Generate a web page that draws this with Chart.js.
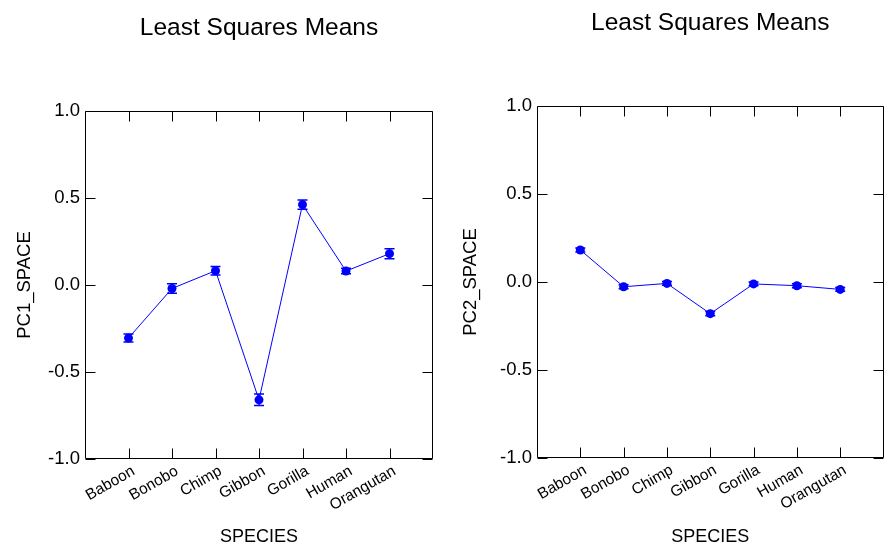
<!DOCTYPE html>
<html>
<head>
<meta charset="utf-8">
<script src="https://cdn.jsdelivr.net/npm/chart.js@4.4.1/dist/chart.umd.min.js"></script>
<style>
    html, body { margin: 0; padding: 0; background: #fff; }
    #wrap { position: relative; width: 888px; height: 548px; overflow: hidden; }
    .panel { position: absolute; top: 0; width: 444px; height: 548px; }
</style>
</head>
<body>
<div id="wrap">
    <div class="panel" style="left:0"><canvas id="pc1-chart"></canvas></div>
    <div class="panel" style="left:444px"><canvas id="pc2-chart"></canvas></div>
</div>
<script>
// Data
const species = ['Baboon', 'Bonobo', 'Chimp', 'Gibbon', 'Gorilla', 'Human', 'Orangutan'];
const pc1Means = [-0.305, -0.02, 0.082, -0.66, 0.462, 0.08, 0.18];
const pc1Errors = [0.023, 0.027, 0.024, 0.033, 0.026, 0.016, 0.029];
const pc2Means = [0.182, -0.027, -0.008, -0.18, -0.011, -0.021, -0.042];
const pc2Errors = [0.011, 0.011, 0.011, 0.012, 0.011, 0.011, 0.011];
const yTicks = [-1.0, -0.5, 0.0, 0.5, 1.0];

const blue = '#0000ff';
const fontFamily = '"Liberation Sans", Arial, sans-serif';

// Vertical error bars with caps, drawn under the points
const errorBars = {
    id: 'errorBars',
    beforeDatasetsDraw(chart, args, opts) {
        const ctx = chart.ctx;
        const xs = chart.scales.x;
        const ys = chart.scales.y;
        ctx.save();
        ctx.strokeStyle = blue;
        ctx.lineWidth = 1.5;
        opts.means.forEach((m, i) => {
            const x = xs.getPixelForValue(i + 1);
            const yTop = ys.getPixelForValue(m + opts.errors[i]);
            const yBot = ys.getPixelForValue(m - opts.errors[i]);
            ctx.beginPath();
            ctx.moveTo(x, yTop);
            ctx.lineTo(x, yBot);
            ctx.moveTo(x - 5, yTop);
            ctx.lineTo(x + 5, yTop);
            ctx.moveTo(x - 5, yBot);
            ctx.lineTo(x + 5, yBot);
            ctx.stroke();
        });
        ctx.restore();
    }
};

// Box round the plot with inward ticks on all four sides
const frame = {
    id: 'frame',
    afterDraw(chart) {
        const ctx = chart.ctx;
        const a = chart.chartArea;
        const L = Math.round(a.left) + 0.5, R = Math.round(a.right) - 0.5;
        const T = Math.round(a.top) + 0.5, B = Math.round(a.bottom) - 0.5;
        const len = 10;
        ctx.save();
        ctx.strokeStyle = '#000';
        ctx.lineWidth = 1;
        ctx.beginPath();
        ctx.rect(L, T, R - L, B - T);
        chart.scales.x.ticks.forEach(t => {
            const x = Math.round(chart.scales.x.getPixelForValue(t.value)) + 0.5;
            ctx.moveTo(x, B); ctx.lineTo(x, B - len);
            ctx.moveTo(x, T); ctx.lineTo(x, T + len);
        });
        chart.scales.y.ticks.forEach(t => {
            const y = Math.round(chart.scales.y.getPixelForValue(t.value)) + 0.5;
            ctx.moveTo(L, y); ctx.lineTo(L + len, y);
            ctx.moveTo(R, y); ctx.lineTo(R - len, y);
        });
        ctx.stroke();
        ctx.restore();
    }
};

function createMeansChart(canvasId, means, errors, yTitle, box) {
    const ctx = document.getElementById(canvasId).getContext('2d');
    return new Chart(ctx, {
        type: 'line',
        data: {
            datasets: [{
                data: species.map((s, i) => ({ x: i + 1, y: means[i] })),
                borderColor: blue,
                borderWidth: 1,
                backgroundColor: blue,
                pointBackgroundColor: blue,
                pointBorderWidth: 0,
                pointRadius: 4.5,
                tension: 0
            }]
        },
        options: {
            responsive: true,
            maintainAspectRatio: false,
            animation: false,
            layout: { padding: { left: 0, right: box.padRight, top: 0, bottom: 0 } },
            scales: {
                x: {
                    type: 'linear',
                    min: 0,
                    max: 8,
                    afterBuildTicks: axis => { axis.ticks = species.map((s, i) => ({ value: i + 1 })); },
                    afterFit: axis => { axis.height = box.xHeight; },
                    grid: { display: false, drawTicks: false },
                    border: { display: false },
                    ticks: {
                        autoSkip: false,
                        minRotation: 30,
                        maxRotation: 30,
                        padding: 3,
                        labelOffset: 5,
                        color: '#000',
                        font: { family: fontFamily, size: 15.5 },
                        callback: v => species[v - 1]
                    },
                    title: {
                        display: true,
                        text: 'SPECIES',
                        color: '#000',
                        font: { family: fontFamily, size: 18 },
                        padding: { top: 0, bottom: 0 }
                    }
                },
                y: {
                    min: -1,
                    max: 1,
                    afterBuildTicks: axis => { axis.ticks = yTicks.map(v => ({ value: v })); },
                    afterFit: axis => { axis.width = box.yWidth; },
                    grid: { display: false, drawTicks: false },
                    border: { display: false },
                    ticks: {
                        padding: 5,
                        color: '#000',
                        font: { family: fontFamily, size: 18.5 },
                        callback: v => v.toFixed(1)
                    },
                    title: {
                        display: true,
                        text: yTitle,
                        color: '#000',
                        font: { family: fontFamily, size: 18.5 },
                        padding: { top: box.yTitlePad, bottom: 0 }
                    }
                }
            },
            plugins: {
                legend: { display: false },
                tooltip: { enabled: false },
                title: {
                    display: true,
                    fullSize: false,
                    text: 'Least Squares Means',
                    color: '#000',
                    font: { family: fontFamily, size: 24.5, weight: 'normal' },
                    padding: { top: box.titleTop, bottom: box.titleBottom }
                },
                errorBars: { means: means, errors: errors }
            }
        },
        plugins: [errorBars, frame]
    });
}

createMeansChart('pc1-chart', pc1Means, pc1Errors, 'PC1_SPACE',
    { padRight: 11, xHeight: 89, yWidth: 85, yTitlePad: 14, titleTop: 13.7, titleBottom: 67.9 });
createMeansChart('pc2-chart', pc2Means, pc2Errors, 'PC2_SPACE',
    { padRight: 0, xHeight: 90, yWidth: 93, yTitlePad: 16, titleTop: 8.3, titleBottom: 68.3 });
</script>
</body>
</html>
